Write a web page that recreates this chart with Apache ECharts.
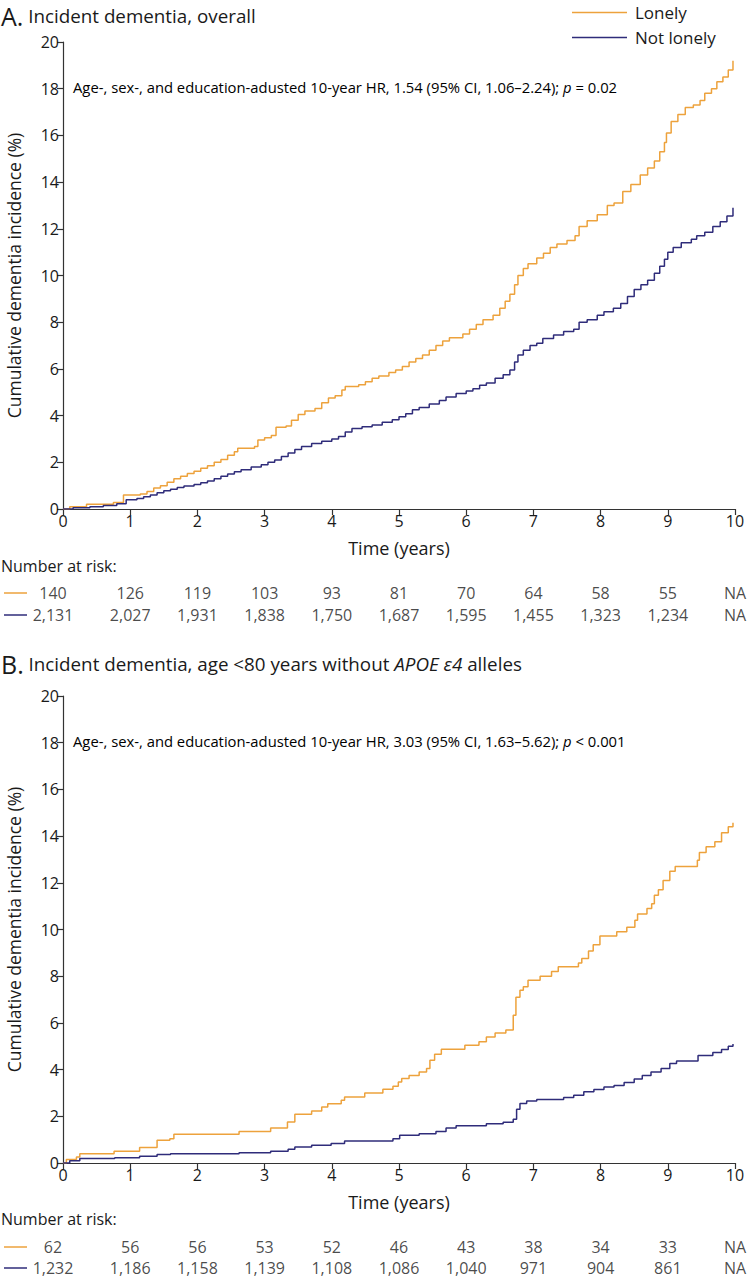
<!DOCTYPE html>
<html><head><meta charset="utf-8">
<script src="https://cdn.jsdelivr.net/npm/echarts@6/dist/echarts.min.js"></script>
<style>html,body{margin:0;padding:0;background:#fff}#c{width:748px;height:1280px}</style>
</head><body><div id="c"></div>
<script>
// ---------- DATA ----------
const xTicks = [0,1,2,3,4,5,6,7,8,9,10];
const seriesNames = ['Lonely','Not lonely'];
// Panel A: cumulative incidence (%) step points [years, %]
const aLonely = [[0,0],[0.1,0.1],[0.35,0.2],[0.75,0.28],[0.9,0.6],[1.15,0.64],[1.25,0.75],[1.35,0.9],[1.45,1.0],[1.55,1.15],[1.65,1.3],[1.75,1.4],[1.85,1.52],[1.95,1.62],[2.05,1.75],[2.15,1.85],[2.25,2.0],[2.35,2.12],[2.45,2.3],[2.55,2.45],[2.6,2.6],[2.85,2.68],[2.9,2.95],[3.0,3.05],[3.1,3.15],[3.17,3.5],[3.32,3.55],[3.4,3.8],[3.5,4.05],[3.6,4.2],[3.75,4.3],[3.85,4.55],[3.95,4.75],[4.05,4.85],[4.15,5.1],[4.2,5.25],[4.4,5.32],[4.5,5.45],[4.6,5.6],[4.7,5.7],[4.85,5.85],[4.95,5.95],[5.05,6.1],[5.15,6.3],[5.25,6.45],[5.35,6.6],[5.45,6.8],[5.55,7.0],[5.65,7.2],[5.75,7.33],[5.95,7.5],[6.05,7.7],[6.15,7.9],[6.25,8.1],[6.4,8.3],[6.5,8.6],[6.58,8.9],[6.65,9.2],[6.72,9.6],[6.77,10.0],[6.85,10.3],[6.92,10.5],[7.05,10.75],[7.15,10.95],[7.25,11.2],[7.35,11.35],[7.5,11.5],[7.62,11.7],[7.68,12.1],[7.8,12.35],[7.95,12.6],[8.1,13.0],[8.2,13.1],[8.33,13.6],[8.45,13.9],[8.59,14.3],[8.7,14.6],[8.8,14.9],[8.88,15.3],[8.95,15.7],[8.98,16.1],[9.05,16.6],[9.15,16.9],[9.26,17.2],[9.38,17.3],[9.48,17.5],[9.55,17.8],[9.65,18.0],[9.73,18.3],[9.82,18.5],[9.9,18.8],[9.97,19.2]];
const aNotLonely = [[0,0],[0.15,0.05],[0.4,0.1],[0.6,0.15],[0.8,0.22],[0.94,0.4],[1.1,0.45],[1.2,0.52],[1.3,0.6],[1.4,0.7],[1.5,0.78],[1.6,0.85],[1.7,0.92],[1.8,0.98],[1.95,1.05],[2.05,1.12],[2.15,1.2],[2.25,1.3],[2.35,1.4],[2.45,1.5],[2.55,1.6],[2.65,1.68],[2.8,1.8],[2.95,1.9],[3.05,2.0],[3.15,2.1],[3.25,2.25],[3.35,2.4],[3.45,2.55],[3.55,2.68],[3.7,2.8],[3.85,2.9],[4.0,3.0],[4.1,3.1],[4.2,3.3],[4.3,3.45],[4.45,3.52],[4.6,3.6],[4.75,3.72],[4.9,3.82],[5.0,3.95],[5.1,4.08],[5.2,4.25],[5.3,4.35],[5.45,4.5],[5.6,4.65],[5.7,4.8],[5.85,4.95],[6.0,5.05],[6.1,5.15],[6.2,5.3],[6.3,5.4],[6.43,5.6],[6.55,5.75],[6.65,5.95],[6.72,6.3],[6.77,6.6],[6.85,6.8],[6.95,7.0],[7.05,7.1],[7.14,7.3],[7.3,7.45],[7.45,7.6],[7.6,7.7],[7.68,8.0],[7.8,8.1],[7.95,8.3],[8.05,8.45],[8.19,8.6],[8.3,8.8],[8.4,9.1],[8.5,9.4],[8.6,9.6],[8.7,9.8],[8.8,10.1],[8.88,10.4],[8.95,10.7],[9.0,11.0],[9.08,11.2],[9.2,11.4],[9.35,11.55],[9.43,11.7],[9.55,11.85],[9.67,12.1],[9.78,12.3],[9.88,12.55],[9.97,12.9]];
// Panel B
const bLonely = [[0,0],[0.05,0.15],[0.2,0.26],[0.25,0.4],[0.76,0.5],[1.14,0.66],[1.4,0.97],[1.59,1.04],[1.65,1.23],[2.62,1.35],[3.09,1.5],[3.34,1.76],[3.45,2.09],[3.7,2.23],[3.85,2.4],[3.94,2.54],[4.14,2.69],[4.19,2.83],[4.49,3.0],[4.76,3.16],[4.91,3.29],[4.99,3.47],[5.04,3.62],[5.15,3.75],[5.3,3.9],[5.41,4.05],[5.46,4.4],[5.53,4.66],[5.63,4.87],[5.98,5.04],[6.19,5.19],[6.3,5.4],[6.43,5.57],[6.59,5.7],[6.7,6.33],[6.74,7.1],[6.8,7.4],[6.85,7.55],[6.92,7.83],[7.1,8.0],[7.27,8.2],[7.37,8.4],[7.67,8.57],[7.72,8.76],[7.82,9.08],[7.89,9.35],[7.99,9.72],[8.24,9.9],[8.39,10.1],[8.51,10.4],[8.55,10.66],[8.69,10.9],[8.76,11.1],[8.8,11.47],[8.86,11.7],[8.93,12.1],[9.03,12.5],[9.11,12.7],[9.44,12.97],[9.47,13.3],[9.57,13.54],[9.7,13.76],[9.8,14.14],[9.9,14.4],[9.97,14.57]];
const bNotLonely = [[0,0],[0.1,0.1],[0.25,0.19],[0.77,0.23],[1.14,0.29],[1.4,0.36],[1.6,0.4],[2.62,0.44],[3.09,0.5],[3.35,0.59],[3.45,0.69],[3.7,0.76],[3.99,0.83],[4.19,0.94],[4.91,1.04],[5.01,1.19],[5.3,1.25],[5.55,1.35],[5.7,1.5],[5.85,1.6],[6.3,1.68],[6.55,1.75],[6.7,1.87],[6.75,2.3],[6.8,2.55],[6.9,2.65],[7.05,2.72],[7.45,2.8],[7.6,2.9],[7.75,3.05],[7.9,3.15],[8.05,3.25],[8.2,3.32],[8.35,3.45],[8.5,3.6],[8.62,3.75],[8.75,3.9],[8.9,4.05],[9.03,4.26],[9.13,4.37],[9.45,4.6],[9.67,4.73],[9.8,4.86],[9.9,5.0],[9.97,5.1]];
// Number at risk tables
const riskALonely = ['140','126','119','103','93','81','70','64','58','55','NA'];
const riskANotLonely = ['2,131','2,027','1,931','1,838','1,750','1,687','1,595','1,455','1,323','1,234','NA'];
const riskBLonely = ['62','56','56','53','52','46','43','38','34','33','NA'];
const riskBNotLonely = ['1,232','1,186','1,158','1,139','1,108','1,086','1,040','971','904','861','NA'];
const titleA = 'Incident dementia, overall';
const annA = ['Age-, sex-, and education-adusted 10-year HR, 1.54 (95% CI, 1.06–2.24); ', 'p', ' = 0.02'];
const annB = ['Age-, sex-, and education-adusted 10-year HR, 3.03 (95% CI, 1.63–5.62); ', 'p', ' < 0.001'];

// ---------- STYLE ----------
const F = "'Open Sans', 'Noto Sans', sans-serif";
const ORANGE = '#EDA23C', BLUE = '#2F2C7A', TXT = '#1a1a1a', AX = '#333';
const chart = echarts.init(document.getElementById('c'), null, {renderer:'svg'});

function plotX(i){return {type:'value',gridIndex:i,min:0,max:10,interval:1,
  name:'Time (years)',nameLocation:'middle',nameGap:30,nameTextStyle:{fontSize:18,color:TXT,fontFamily:F},
  axisLine:{show:true,lineStyle:{color:AX,width:1.2}},axisTick:{show:true,length:6,lineStyle:{color:AX,width:1.2}},
  axisLabel:{fontSize:16,color:TXT,margin:4,fontFamily:F},splitLine:{show:false}};}
function plotY(i){return {type:'value',gridIndex:i,min:0,max:20,interval:2,
  name:'Cumulative dementia incidence (%)',nameLocation:'middle',nameGap:40,nameRotate:90,nameTextStyle:{fontSize:17.5,color:TXT,fontFamily:F},
  axisLine:{show:true,lineStyle:{color:AX,width:1.2}},axisTick:{show:true,length:6,lineStyle:{color:AX,width:1.2}},
  axisLabel:{fontSize:16,color:TXT,margin:4,fontFamily:F},splitLine:{show:false}};}
function tabX(i){return {type:'value',gridIndex:i,min:0,max:10,show:false};}
function tabY(i){return {type:'category',gridIndex:i,data:seriesNames,inverse:true,show:false};}
function line(name,data,idx,color){return {name,type:'line',step:'end',data,xAxisIndex:idx,yAxisIndex:idx,
  showSymbol:false,symbol:'none',lineStyle:{color,width:1.5},itemStyle:{color},silent:true,z:3};}
function table(vals,row,idx){return {type:'scatter',xAxisIndex:idx,yAxisIndex:idx,symbolSize:0,silent:true,
  data:vals.map((v,k)=>({value:[xTicks[k],row,v],label:{offset:[k===0?-10:0,0]}})),
  label:{show:true,position:'inside',formatter:p=>p.value[2],fontSize:16,color:TXT,fontFamily:F}};}
function grid(top,height){return {left:63,right:13,top,height,containLabel:false,outerBoundsMode:'none'};}

const titleRich = {a:{fontSize:25,fontFamily:F,color:TXT},b:{fontSize:18.8,fontFamily:F,color:TXT},i:{fontSize:18.8,fontFamily:F,color:TXT,fontStyle:'italic'}};
const annRich = {n:{fontSize:14.8,fontFamily:F,color:TXT},i:{fontSize:14.8,fontFamily:F,color:TXT,fontStyle:'italic'}};

const option = {
  animation:false,
  textStyle:{fontFamily:F},
  grid:[grid(42,467),grid(696,467),grid(582,44),grid(1236,43)],
  xAxis:[plotX(0),plotX(1),tabX(2),tabX(3)],
  yAxis:[plotY(0),plotY(1),tabY(2),tabY(3)],
  legend:{data:seriesNames,orient:'vertical',left:572,top:2,padding:0,icon:'rect',itemWidth:55,itemHeight:1.5,itemGap:4,
    textStyle:{fontSize:17,color:TXT,fontFamily:F,lineHeight:21,padding:[0,0,0,3]}},
  graphic:[
    {type:'text',left:1,top:3,style:{text:'{a|A.}{b| '+titleA+'}',rich:titleRich,fill:TXT}},
    {type:'text',left:1,top:651,style:{text:'{a|B.}{b| Incident dementia, age <80 years without }{i|APOE ε4}{b| alleles}',rich:titleRich,fill:TXT}},
    {type:'text',left:73,top:79,style:{text:'{n|'+annA[0]+'}{i|'+annA[1]+'}{n|'+annA[2]+'}',rich:annRich}},
    {type:'text',left:73,top:733,style:{text:'{n|'+annB[0]+'}{i|'+annB[1]+'}{n|'+annB[2]+'}',rich:annRich}},
    {type:'text',left:1,top:558,style:{text:'Number at risk:',fontSize:16,fontFamily:F,fill:TXT}},
    {type:'text',left:1,top:1211,style:{text:'Number at risk:',fontSize:16,fontFamily:F,fill:TXT}},
    {type:'line',shape:{x1:4,y1:593,x2:27,y2:593},style:{stroke:ORANGE,lineWidth:1.5}},
    {type:'line',shape:{x1:4,y1:615,x2:27,y2:615},style:{stroke:BLUE,lineWidth:1.5}},
    {type:'line',shape:{x1:4,y1:1247,x2:27,y2:1247},style:{stroke:ORANGE,lineWidth:1.5}},
    {type:'line',shape:{x1:4,y1:1268,x2:27,y2:1268},style:{stroke:BLUE,lineWidth:1.5}}
  ],
  series:[
    line('Lonely',aLonely,0,ORANGE),
    line('Not lonely',aNotLonely,0,BLUE),
    line('Lonely',bLonely,1,ORANGE),
    line('Not lonely',bNotLonely,1,BLUE),
    table(riskALonely,0,2),table(riskANotLonely,1,2),
    table(riskBLonely,0,3),table(riskBNotLonely,1,3)
  ]
};
chart.setOption(option);
</script></body></html>
